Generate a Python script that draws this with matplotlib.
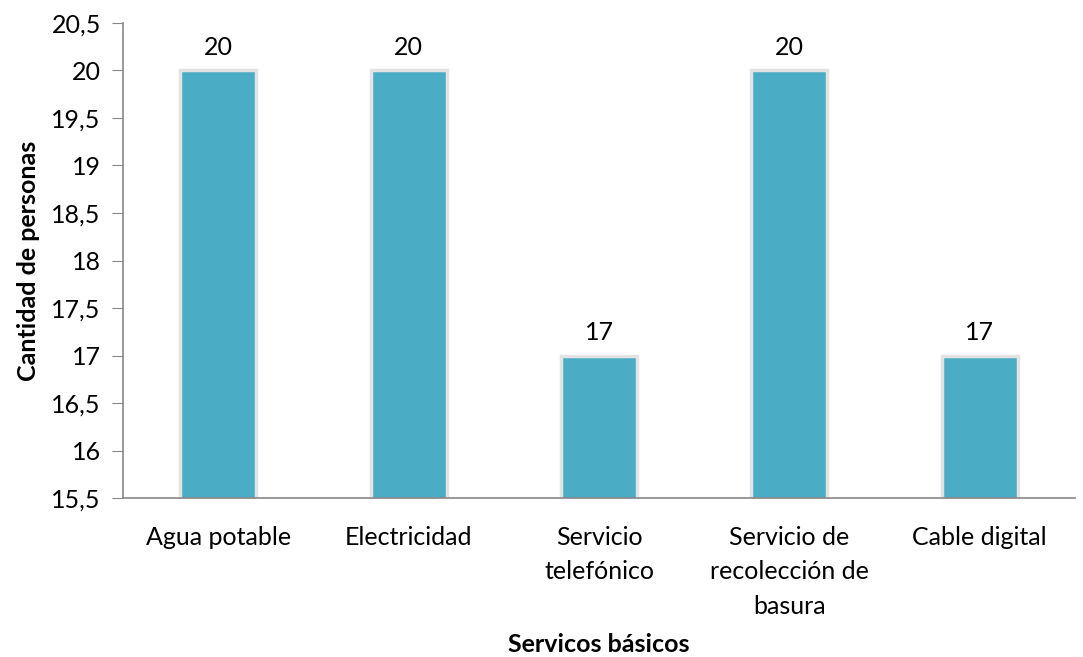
import matplotlib.pyplot as plt
import numpy as np

categorias = ['Agua potable', 'Electricidad', 'Servicio\ntelefónico',
              'Servicio de\nrecolección de\nbasura', 'Cable digital']
cantidades = [20, 20, 17, 20, 17]
yticks = [15.5, 16, 16.5, 17, 17.5, 18, 18.5, 19, 19.5, 20, 20.5]

plt.rcParams['font.family'] = ['Lato', 'DejaVu Sans']

fig = plt.figure(figsize=(10.83, 6.57), dpi=100)
ax = fig.add_axes([0.1136, 0.242, 0.879, 0.723])

x = np.arange(len(categorias))
bars = ax.bar(x, cantidades, width=0.4, bottom=0, color='#4BACC6',
              edgecolor='#E3E3E3', linewidth=2.5)
for xi, v in zip(x, cantidades):
    ax.text(xi, v + 0.12, str(v), ha='center', va='bottom', fontsize=18)

ax.set_ylim(15.5, 20.5)
ax.set_xlim(-0.5, len(categorias) - 0.5)
ax.set_yticks(yticks)
ax.set_yticklabels([f'{t:g}'.replace('.', ',') for t in yticks], fontsize=18)
ax.set_xticks(x)
ax.set_xticklabels(categorias, fontsize=18, linespacing=1.6, va='top')
ax.tick_params(axis='x', length=0, pad=20)
ax.tick_params(axis='y', length=8, color='#888888', pad=8)

for s in ['top', 'right']:
    ax.spines[s].set_visible(False)
for s in ['left', 'bottom']:
    ax.spines[s].set_color('#888888')
    ax.spines[s].set_linewidth(1.2)

ax.set_ylabel('Cantidad de personas', fontsize=18, fontweight='bold', labelpad=8)
ax.set_xlabel('Servicos básicos', fontsize=18, fontweight='bold')
ax.xaxis.set_label_coords(0.5, -0.285)

fig.savefig('out.png', dpi=100)
